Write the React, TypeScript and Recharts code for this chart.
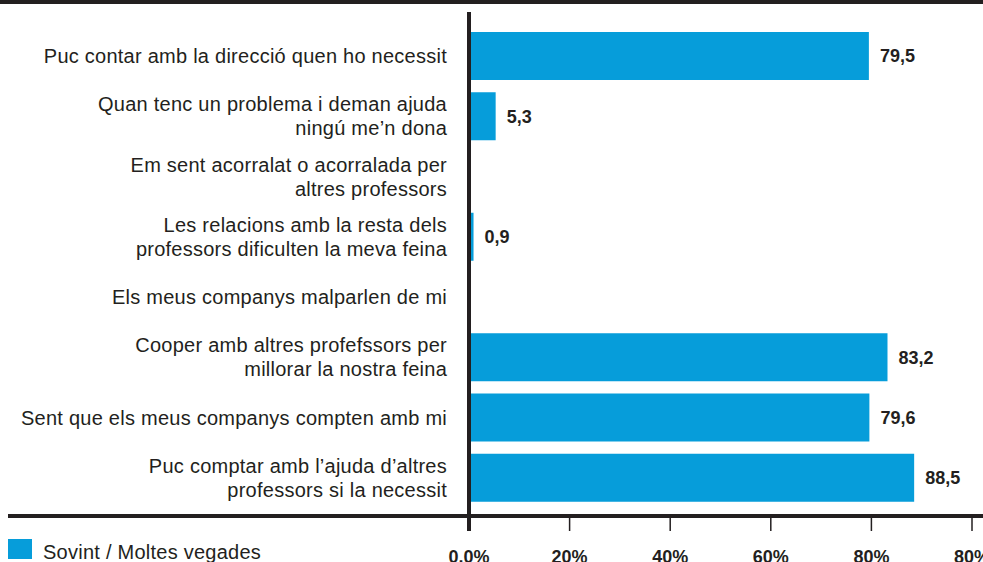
import React from "react";
import { BarChart, Bar, XAxis, YAxis, ReferenceLine, LabelList } from "recharts";

const categories = [
  "Puc contar amb la direcció quen ho necessit",
  "Quan tenc un problema i deman ajuda\nningú me’n dona",
  "Em sent acorralat o acorralada per\naltres professors",
  "Les relacions amb la resta dels\nprofessors dificulten la meva feina",
  "Els meus companys malparlen de mi",
  "Cooper amb altres profefssors per\nmillorar la nostra feina",
  "Sent que els meus companys compten amb mi",
  "Puc comptar amb l’ajuda d’altres\nprofessors si la necessit",
];
const values: (number | null)[] = [79.5, 5.3, null, 0.9, null, 83.2, 79.6, 88.5];
const xTicks = [0, 20, 40, 60, 80, 100];
const xTickLabels = ["0.0%", "20%", "40%", "60%", "80%", "80%"];
const seriesName = "Sovint / Moltes vegades";

const data = categories.map((label, i) => ({ label, value: values[i] }));

const INK = "#231f20";
const BLUE = "#069dda";
const FONT = "'Liberation Sans', Arial, Helvetica, sans-serif";

function CategoryTick({ y, payload }: any) {
  const lines = String(payload.value).split("\n");
  const lh = 24;
  const start = -((lines.length - 1) * lh) / 2;
  const right = 447;
  return (
    <text textAnchor="end" fill={INK} fontSize={20} letterSpacing={0.25} fontFamily={FONT}>
      {lines.map((l, i) => (
        <tspan key={i} x={right} y={y + start + i * lh} dy="0.35em">
          {l}
        </tspan>
      ))}
    </text>
  );
}

function PercentTick({ x, y, payload }: any) {
  const i = xTicks.indexOf(payload.value);
  return (
    <g>
      <line x1={x} x2={x} y1={y} y2={y + 15} stroke={INK} strokeWidth={i === 0 ? 4 : 1.5} />
      <text x={x} y={y + 47} textAnchor="middle" fontWeight="bold" fontSize={18} fontFamily={FONT} fill={INK}>
        {xTickLabels[i]}
      </text>
    </g>
  );
}

const fmt = (v: any) => (v == null ? "" : String(v).replace(".", ","));

export default function App() {
  return (
    <div style={{ position: "absolute", left: 0, top: 0, width: 983, height: 562, overflow: "hidden", background: "#fff", fontFamily: FONT }}>
      <div style={{ position: "absolute", left: 0, top: 0, width: 983, height: 4, background: INK }} />
      <BarChart
        width={983}
        height={562}
        data={data}
        layout="vertical"
        margin={{ top: 12, right: 0, left: 7, bottom: 0 }}
      >
        <XAxis
          type="number"
          domain={[0, 100]}
          ticks={xTicks}
          padding={{ left: 461, right: 11 }}
          height={46}
          axisLine={{ stroke: INK, strokeWidth: 4 }}
          tickLine={false}
          tickSize={0}
          tickMargin={0}
          tick={<PercentTick />}
          interval={0}
        />
        <YAxis
          type="category"
          dataKey="label"
          width={1}
          padding={{ top: 14, bottom: 8 }}
          axisLine={false}
          tickLine={false}
          tickSize={0}
          tickMargin={0}
          tick={<CategoryTick />}
          interval={0}
        />
        <Bar dataKey="value" name={seriesName} fill={BLUE} barSize={48} isAnimationActive={false}>
          <LabelList
            dataKey="value"
            position="right"
            offset={11}
            formatter={fmt}
            fill={INK}
            fontSize={18}
            fontWeight="bold"
            fontFamily={FONT}
          />
        </Bar>
        <ReferenceLine x={0} stroke={INK} strokeWidth={4} />
      </BarChart>
      <div style={{ position: "absolute", left: 8, top: 539, width: 24, height: 20, background: BLUE }} />
      <span
        style={{ position: "absolute", left: 43, top: 542, fontSize: 20, letterSpacing: 0.25, lineHeight: "20px", color: INK, whiteSpace: "nowrap" }}
      >
        {seriesName}
      </span>
    </div>
  );
}
